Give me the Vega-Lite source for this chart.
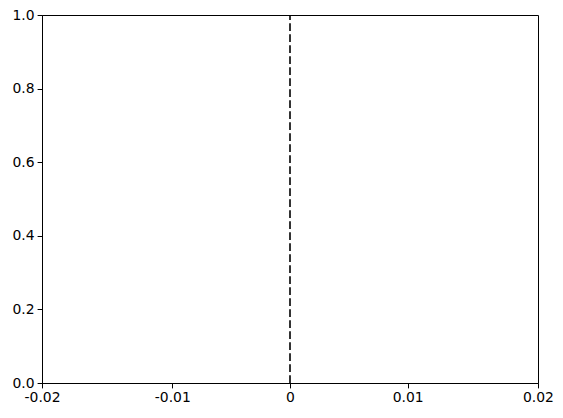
{
  "$schema": "https://vega.github.io/schema/vega-lite/v6.json",
  "description": "Dashed vertical line at x = 0 on an empty axes",
  "width": 496,
  "height": 368,
  "autosize": "none",
  "padding": {"left": 42, "top": 15, "right": 25, "bottom": 35},
  "background": "white",
  "data": {
    "values": [
      {"x": 0}
    ]
  },
  "mark": {"type": "rule", "color": "black", "opacity": 1, "strokeWidth": 1.6, "strokeDash": [7.7, 3.3]},
  "encoding": {
    "x": {
      "field": "x",
      "type": "quantitative",
      "scale": {"type": "pow", "exponent": 1.075, "domain": [-0.02, 0.02], "nice": false, "zero": false},
      "axis": {
        "title": null,
        "values": [-0.02, -0.01, 0, 0.01, 0.02],
        "labelExpr": "toString(datum.value)"
      }
    },
    "y": {
      "datum": 0,
      "type": "quantitative",
      "scale": {"domain": [0, 1], "nice": false},
      "axis": {
        "title": null,
        "values": [0, 0.2, 0.4, 0.6, 0.8, 1.0],
        "format": ".1f"
      }
    },
    "y2": {"datum": 1}
  },
  "config": {
    "view": {"stroke": "black", "strokeWidth": 1},
    "axis": {
      "grid": false,
      "domainColor": "black",
      "domainWidth": 1,
      "tickColor": "black",
      "tickSize": 4.9,
      "tickWidth": 1,
      "labelFont": "DejaVu Sans",
      "labelFontSize": 13.9,
      "labelColor": "black",
      "labelPadding": 3,
      "labelFlush": false,
      "labelOverlap": false,
      "labelBound": false
    }
  }
}
